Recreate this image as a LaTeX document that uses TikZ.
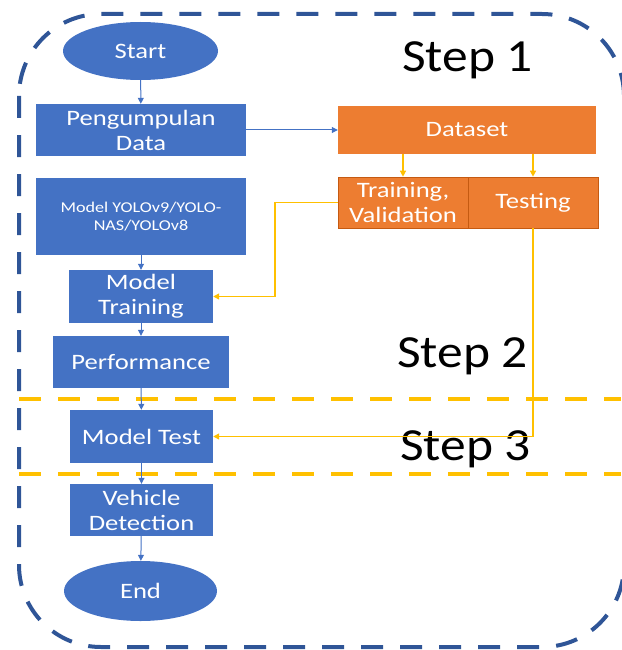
\documentclass[tikz,border=0pt]{standalone}
\usepackage{fontspec}
\setmainfont{Carlito}[FakeStretch=1.21]
\newfontfamily\stepfont{Carlito}[FakeStretch=1.12]
\usetikzlibrary{shapes.geometric,arrows.meta}
\definecolor{boxblue}{HTML}{4472C4}
\definecolor{darkblue}{HTML}{2F5597}
\definecolor{boxorange}{HTML}{ED7D31}
\definecolor{edgeorange}{HTML}{C55A11}
\definecolor{lineyellow}{HTML}{FFC000}
\tikzset{
  bluebox/.style={rectangle, fill=boxblue, text=white, inner sep=0pt, align=center,
    font=\fontsize{22}{25}\selectfont},
  blueoval/.style={ellipse, fill=boxblue, text=white, inner sep=0pt,
    font=\fontsize{22}{25}\selectfont},
  orangebox/.style={rectangle, fill=boxorange, text=white, inner sep=0pt, align=center,
    font=\fontsize{22}{25}\selectfont},
  bluearrow/.style={draw=boxblue, line width=1pt, -{Triangle[length=6pt,width=6pt]}},
  yellowarrow/.style={draw=lineyellow, line width=1.3pt, -{Triangle[length=6pt,width=6pt]}},
  outerframe/.style={draw=darkblue, line width=4pt, dash pattern=on 22pt off 17pt, rounded corners=82pt},
  stagesep/.style={draw=lineyellow, line width=4pt, dash pattern=on 22pt off 17pt},
  steplabel/.style={anchor=base west, inner sep=0pt, font=\stepfont\fontsize{46}{50}\selectfont}
}
\begin{document}
\begin{tikzpicture}[x=1pt,y=-1pt]
\useasboundingbox (0,0) rectangle (621,650);
% outer frame
\draw[outerframe] (19,14) rectangle (624,647);
% stage separators
\coordinate (s1a) at (19,399);
\coordinate (s1b) at (621,399);
\coordinate (s2a) at (19,474);
\coordinate (s2b) at (621,474);
\draw[stagesep] (s1a) -- (s1b);
\draw[stagesep] (s2a) -- (s2b);
% nodes
\node[blueoval, minimum width=155pt, minimum height=58pt] (start) at (140.5,51) {Start};
\node[bluebox, minimum width=210pt, minimum height=52pt] (peng) at (141,130) {Pengumpulan\\Data};
\node[bluebox, minimum width=210pt, minimum height=77pt, font=\fontsize{15}{18}\selectfont] (yolo) at (141,216.5) {Model YOLOv9/YOLO-\\NAS/YOLOv8};
\node[bluebox, minimum width=144pt, minimum height=53pt] (train) at (141,296.5) {Model\\Training};
\node[bluebox, minimum width=176pt, minimum height=52pt] (perf) at (141,362) {Performance};
\node[bluebox, minimum width=143pt, minimum height=53pt] (mtest) at (141.5,436.5) {Model Test};
\node[bluebox, minimum width=143pt, minimum height=52pt] (vehicle) at (141.5,510) {Vehicle\\Detection};
\node[blueoval, minimum width=153pt, minimum height=60pt] (end) at (140.5,591) {End};
\node[orangebox, minimum width=258pt, minimum height=48pt] (dataset) at (467,130) {Dataset};
\node[orangebox, draw=edgeorange, line width=0.6pt, minimum width=130pt, minimum height=51pt] (trval) at (403,202.5) {Training,\\Validation};
\node[orangebox, draw=edgeorange, line width=0.6pt, minimum width=130pt, minimum height=51pt] (testing) at (533,202.5) {Testing};
% step labels
\node[steplabel] (step1) at (402,72) {Step 1};
\node[steplabel] (step2) at (397,367) {Step 2};
\node[steplabel] (step3) at (400,460) {Step 3};
% blue connectors
\draw[bluearrow] (start) -- (peng);
\draw[bluearrow] (peng) -- (dataset);
\draw[bluearrow] (yolo) -- (train);
\draw[bluearrow] (train) -- (perf);
\draw[bluearrow] (perf) -- (mtest);
\draw[bluearrow] (mtest) -- (vehicle);
\draw[bluearrow] (vehicle) -- (end);
% yellow connectors
\draw[yellowarrow] (dataset.south -| trval) -- (trval);
\draw[yellowarrow] (dataset.south -| testing) -- (testing);
\coordinate (bend1) at (275,202.5);
\draw[yellowarrow] (trval.west) -- (bend1) |- (train.east);
\draw[yellowarrow] (testing.south) |- (mtest.east);
\end{tikzpicture}
\end{document}
